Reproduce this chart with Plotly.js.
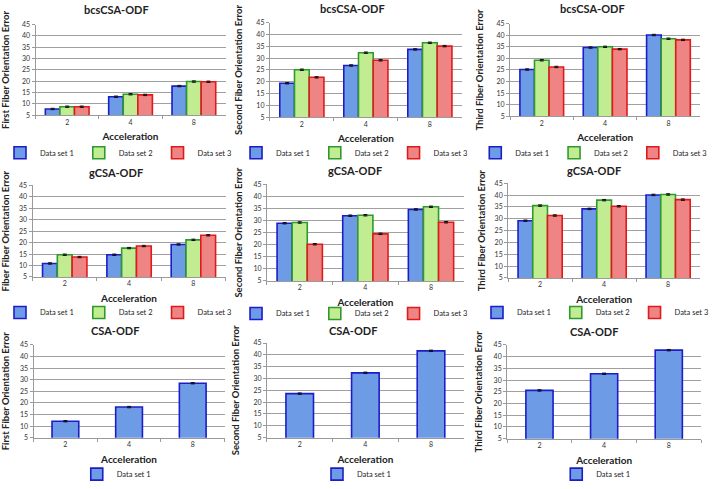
<!DOCTYPE html>
<html><head><meta charset="utf-8">
<script src="https://cdn.plot.ly/plotly-3.0.1.min.js"></script>
<style>html,body{margin:0;padding:0;background:#fff}#chart{width:714px;height:489px}</style>
</head><body><div id="chart"></div>
<script>
const W = 714, H = 489;
const categories = ['2', '4', '8'];
const seriesNames = ['Data set 1', 'Data set 2', 'Data set 3'];
const yTickVals = [5, 10, 15, 20, 25, 30, 35, 40, 45];

// bcsCSA-ODF
const bcsFirst1 = [7.8, 13.2, 17.9], bcsFirst2 = [8.8, 14.3, 19.9], bcsFirst3 = [8.8, 14.0, 19.8];
const bcsSecond1 = [19.4, 26.9, 33.7], bcsSecond2 = [25.1, 32.3, 36.5], bcsSecond3 = [21.9, 29.1, 35.1];
const bcsThird1 = [25.2, 34.7, 40.1], bcsThird2 = [29.2, 35.0, 38.5], bcsThird3 = [26.3, 34.0, 38.0];
// gCSA-ODF
const gFirst1 = [10.9, 14.7, 19.2], gFirst2 = [14.7, 17.6, 21.2], gFirst3 = [13.7, 18.5, 23.2];
const gSecond1 = [28.9, 32.0, 34.6], gSecond2 = [29.2, 32.2, 35.7], gSecond3 = [20.2, 24.5, 29.3];
const gThird1 = [29.2, 34.2, 40.1], gThird2 = [35.6, 37.9, 40.3], gThird3 = [31.4, 35.3, 38.1];
// CSA-ODF
const csaFirst1 = [12.1, 18.2, 28.5];
const csaSecond1 = [23.6, 32.4, 41.7];
const csaThird1 = [25.6, 32.7, 42.8];
// small error bars
const errSmall = [0.3, 0.3, 0.3];

const fills = ['#6d9be6', '#c2ec92', '#ee8484'];
const lines = ['#1c1cc8', '#2e9a2e', '#e01a1a'];
const FONT = 'Lato, "Open Sans", sans-serif';

const panels = [
  {title: 'bcsCSA-ODF', ytitle: 'First Fiber Orientation Error', data: [bcsFirst1, bcsFirst2, bcsFirst3], box: [31, 224, 25, 117], tpos: [113, 10], lpos: [115, 155], ys: 11},
  {title: 'bcsCSA-ODF', ytitle: 'Second Fiber Orientation Error', data: [bcsSecond1, bcsSecond2, bcsSecond3], box: [269, 464, 23, 119], tpos: [353, 9], lpos: [355, 155], ys: 11},
  {title: 'bcsCSA-ODF', ytitle: 'Third Fiber Orientation Error', data: [bcsThird1, bcsThird2, bcsThird3], box: [513, 706, 24, 118], tpos: [597, 9], lpos: [598, 155], ys: 11},
  {title: 'gCSA-ODF', ytitle: 'Fiber Fiber Orientation Error', data: [gFirst1, gFirst2, gFirst3], box: [28, 224, 188, 281], tpos: [113, 175], lpos: [115, 317], ys: 10},
  {title: 'gCSA-ODF', ytitle: 'Second Fiber Orientation Error', data: [gSecond1, gSecond2, gSecond3], box: [266, 466, 187, 285], tpos: [355, 173], lpos: [355, 318], ys: 9},
  {title: 'gCSA-ODF', ytitle: 'Third Fiber Orientation Error', data: [gThird1, gThird2, gThird3], box: [511, 706, 186, 282], tpos: [598, 173], lpos: [600, 317], ys: 7},
  {title: 'CSA-ODF', ytitle: 'First Fiber Orientation Error', data: [csaFirst1], box: [29, 223, 350, 444], tpos: [112, 335], lpos: [113, 481], ys: 9},
  {title: 'CSA-ODF', ytitle: 'Second Fiber Orientation Error', data: [csaSecond1], box: [266, 466, 348, 444], tpos: [353, 335], lpos: [357, 481], ys: 12},
  {title: 'CSA-ODF', ytitle: 'Third Fiber Orientation Error', data: [csaThird1], box: [510, 707, 350, 445], tpos: [598, 336], lpos: [600, 481], ys: 9}
];

const traces = [];
const layout = {
  width: W, height: H,
  margin: {l: 0, r: 0, t: 0, b: 0},
  paper_bgcolor: '#ffffff', plot_bgcolor: '#ffffff',
  font: {family: FONT, color: '#222', size: 8},
  barmode: 'group', bargap: 0.31, bargroupgap: 0,
  annotations: [],
  showlegend: true
};

panels.forEach((p, i) => {
  const n = i === 0 ? '' : String(i + 1);
  const xa = 'x' + n, ya = 'y' + n;
  const lg = 'legend' + n;
  p.data.forEach((vals, k) => {
    const t = {
      type: 'bar', x: categories, y: vals, name: seriesNames[k],
      xaxis: xa, yaxis: ya, legend: lg,
      marker: {color: fills[k], line: {color: lines[k], width: 1.6}},
      error_y: {type: 'data', array: errSmall, color: '#111', thickness: 1, width: 2},
      hoverinfo: 'skip'
    };
    if (p.data.length === 1) t.width = 0.42;
    traces.push(t);
  });
  layout['xaxis' + n] = {
    domain: [p.box[0] / W, p.box[1] / W], anchor: ya, type: 'category',
    showline: true, linecolor: '#9a9a9a', linewidth: 1,
    ticks: 'outside', tickson: 'boundaries', ticklen: 3, tickcolor: '#9a9a9a',
    tickfont: {size: 7, color: '#333', family: FONT}, showgrid: false, fixedrange: true,
    title: {text: 'Acceleration', font: {size: 10, weight: 'bold', family: FONT, color: '#222'}, standoff: 8}
  };
  layout['yaxis' + n] = {
    domain: [1 - p.box[3] / H, 1 - p.box[2] / H], anchor: xa,
    range: [5, 45], tickvals: yTickVals, zeroline: false,
    showline: true, linecolor: '#9a9a9a', linewidth: 1,
    gridcolor: '#a0a0a0', gridwidth: 1,
    ticks: 'outside', ticklen: 3, tickcolor: '#9a9a9a',
    tickfont: {size: 7, color: '#333', family: FONT}, fixedrange: true,
    title: {text: p.ytitle, font: {size: 9.5, weight: 'bold', family: FONT, color: '#222'}, standoff: p.ys}
  };
  layout[lg] = {
    orientation: 'h', x: p.lpos[0] / W, xanchor: 'center', y: 1 - p.lpos[1] / H, yanchor: 'middle',
    font: {size: 7.5, family: FONT, color: '#222'}, bgcolor: 'rgba(0,0,0,0)', itemwidth: 30, tracegroupgap: 0
  };
  layout.annotations.push({
    text: p.title, xref: 'paper', yref: 'paper', x: p.tpos[0] / W, y: 1 - p.tpos[1] / H,
    xanchor: 'center', yanchor: 'middle', showarrow: false,
    font: {size: 11, weight: 'bold', family: FONT, color: '#222'}
  });
});

Plotly.newPlot('chart', traces, layout, {staticPlot: true, displayModeBar: false});
</script>
</body></html>
